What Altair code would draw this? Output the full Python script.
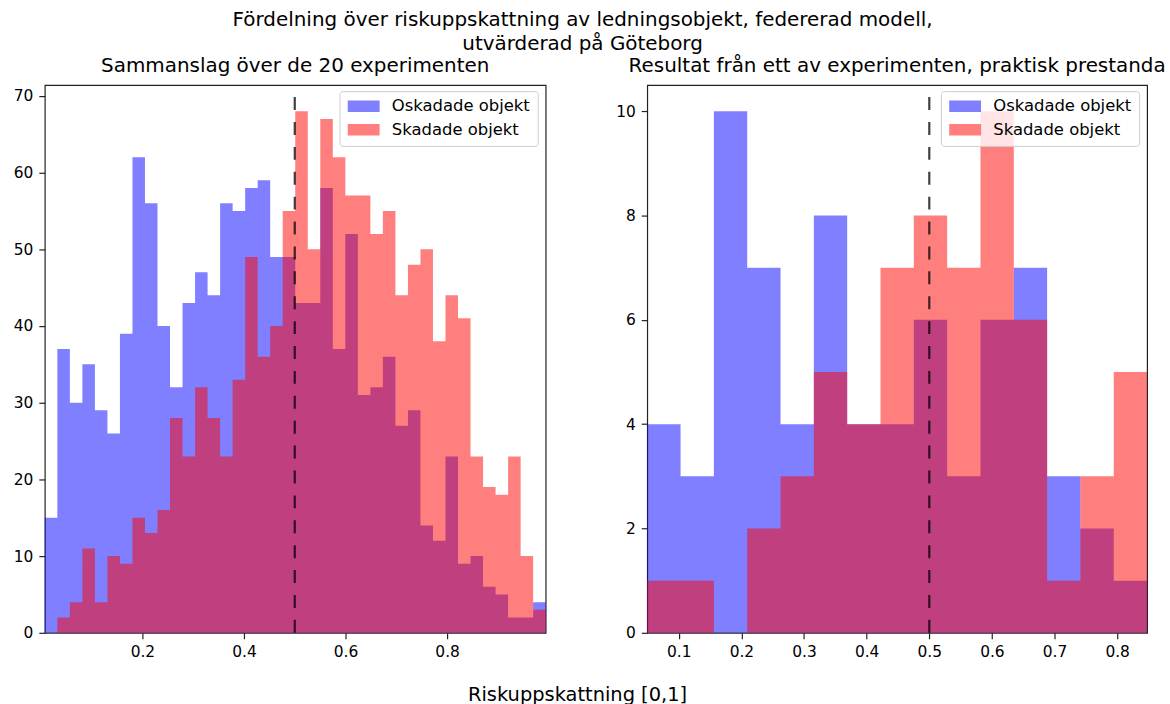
import altair as alt
import numpy as np
import pandas as pd

FONT = "DejaVu Sans"

# Counts per bin, all 20 runs pooled (40 equal-width bins over the score range)
pooled_range = (0.0078, 0.9941)
pooled_oskadade = [15, 37, 30, 35, 29, 26, 39, 62, 56, 40,
                   32, 43, 47, 44, 56, 55, 58, 59, 49, 49,
                   43, 43, 58, 37, 52, 31, 32, 36, 27, 29,
                   14, 12, 23, 9, 10, 6, 5, 2, 2, 4]
pooled_skadade = [0, 2, 4, 11, 4, 10, 9, 15, 13, 16,
                  28, 23, 32, 28, 23, 33, 49, 36, 40, 55,
                  68, 50, 67, 62, 57, 57, 52, 55, 44, 48,
                  50, 38, 44, 41, 23, 19, 18, 23, 10, 3]

# Counts per bin for one single run (15 bins)
single_range = (0.0496, 0.8478)
single_oskadade = [4, 3, 10, 7, 4, 8, 4, 4, 6, 3, 6, 7, 3, 2, 1]
single_skadade = [1, 1, 0, 2, 3, 5, 4, 7, 8, 7, 10, 6, 1, 3, 5]

series_names = ["Oskadade objekt", "Skadade objekt"]
series_colors = ["#0000ff", "#ff0000"]
threshold = 0.5

pooled_xticks = [0.2, 0.4, 0.6, 0.8]
pooled_yticks = [0, 10, 20, 30, 40, 50, 60, 70]
single_xticks = [0.1, 0.2, 0.3, 0.4, 0.5, 0.6, 0.7, 0.8]
single_yticks = [0, 2, 4, 6, 8, 10]

suptitle = ["Fördelning över riskuppskattning av ledningsobjekt, federerad modell,",
            "utvärderad på Göteborg"]
pooled_title = "Sammanslag över de 20 experimenten"
single_title = "Resultat från ett av experimenten, praktisk prestanda"
x_label = "Riskuppskattning [0,1]"

PANEL_H = 550
LEFT_W = 503
RIGHT_W = 502

# wide rectangular legend swatch (custom symbol path)
SWATCH = "M-2,-0.72L2,-0.72L2,0.72L-2,0.72Z"


def step_frame(rng, name, counts):
    """Histogram outline as step points: one row per bin edge."""
    edges = np.linspace(rng[0], rng[1], len(counts) + 1)
    heights = list(counts) + [counts[-1]]
    return pd.DataFrame({"serie": name, "kant": edges, "antal": heights})


def panel(rng, oskadade, skadade, xticks, yticks, title, width, legend_x, extra=None):
    ymax = 1.05 * max(max(oskadade), max(skadade))
    x_scale = alt.Scale(domain=list(rng), nice=False, zero=False)
    y_scale = alt.Scale(domain=[0, ymax], nice=False)
    color = alt.Color(
        "serie:N",
        scale=alt.Scale(domain=series_names, range=series_colors),
        legend=alt.Legend(
            title=None, orient="none", legendX=legend_x, legendY=6,
            symbolType=SWATCH, symbolSize=256, symbolOpacity=0.5,
            symbolStrokeWidth=0, symbolOffset=9,
            labelFont=FONT, labelFontSize=16.5, labelColor="black",
            labelOffset=20, rowPadding=6.5, padding=7,
            fillColor="rgba(255,255,255,0.8)", strokeColor="#cccccc",
            cornerRadius=3,
        ),
    )

    def hist_layer(name, counts):
        return alt.Chart(step_frame(rng, name, counts)).mark_area(
            interpolate="step-after", opacity=0.5
        ).encode(
            x=alt.X("kant:Q", scale=x_scale,
                    axis=alt.Axis(values=xticks, format=".1f", title=None)),
            y=alt.Y("antal:Q", scale=y_scale, stack=None,
                    axis=alt.Axis(values=yticks, format="d", title=None)),
            y2=alt.datum(0),
            color=color,
        )

    blue = hist_layer(series_names[0], oskadade)
    red = hist_layer(series_names[1], skadade)
    rule = alt.Chart(pd.DataFrame({"grans": [threshold]})).mark_rule(
        color="black", opacity=0.75, strokeWidth=2.2, strokeDash=[13, 12]
    ).encode(x="grans:Q", y=alt.value(PANEL_H), y2=alt.value(0))
    layers = [blue, red, rule]
    if extra is not None:
        layers.append(extra)
    return alt.layer(*layers).properties(
        width=width, height=PANEL_H,
        title=alt.TitleParams(title, font=FONT, fontSize=20, fontWeight="normal",
                              color="black", anchor="middle", offset=8),
    )


xlabel_text = alt.Chart(pd.DataFrame({"t": [x_label]})).mark_text(
    font=FONT, fontSize=19.5, color="black", align="center", baseline="middle"
).encode(x=alt.value(535), y=alt.value(612), text="t:N")

left = panel(pooled_range, pooled_oskadade, pooled_skadade, pooled_xticks,
             pooled_yticks, pooled_title, LEFT_W, 296, extra=xlabel_text)
right = panel(single_range, single_oskadade, single_skadade, single_xticks,
              single_yticks, single_title, RIGHT_W, 295)

chart = alt.hconcat(left, right, spacing=102, bounds="flush").resolve_scale(
    color="independent", x="independent", y="independent"
).resolve_legend(color="independent").properties(
    title=alt.TitleParams(suptitle, font=FONT, fontSize=20, fontWeight="normal",
                          color="black", anchor="middle", lineHeight=24,
                          offset=2, dx=-7),
    padding={"left": 12, "top": 8, "right": 3, "bottom": 0},
).configure_view(
    stroke="#222222", strokeWidth=1.2
).configure_axis(
    domain=False, grid=False, ticks=True, tickColor="#222222", tickWidth=1.2,
    tickSize=6, labelFont=FONT, labelFontSize=15.5, labelColor="black",
    labelPadding=6,
)

chart.save("out.html", embed_options={"renderer": "svg", "actions": False})
